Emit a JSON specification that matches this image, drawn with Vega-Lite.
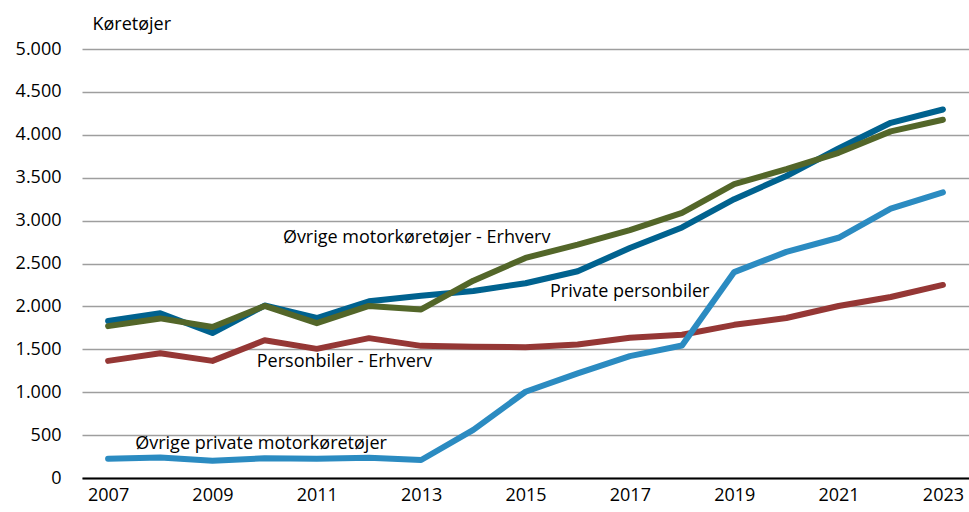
{
  "$schema": "https://vega.github.io/schema/vega-lite/v6.json",
  "width": 887,
  "height": 429,
  "autosize": {"type": "none"},
  "padding": {"left": 82, "top": 49, "right": 0, "bottom": 34},
  "config": {"view": {"stroke": null}, "font": "Open Sans", "background": "white"},
  "datasets": {
    "series": [
      {"year": 2007, "series": "Personbiler - Erhverv", "value": 1365},
      {"year": 2008, "series": "Personbiler - Erhverv", "value": 1455},
      {"year": 2009, "series": "Personbiler - Erhverv", "value": 1365},
      {"year": 2010, "series": "Personbiler - Erhverv", "value": 1605},
      {"year": 2011, "series": "Personbiler - Erhverv", "value": 1505},
      {"year": 2012, "series": "Personbiler - Erhverv", "value": 1630},
      {"year": 2013, "series": "Personbiler - Erhverv", "value": 1540},
      {"year": 2014, "series": "Personbiler - Erhverv", "value": 1530},
      {"year": 2015, "series": "Personbiler - Erhverv", "value": 1525},
      {"year": 2016, "series": "Personbiler - Erhverv", "value": 1555},
      {"year": 2017, "series": "Personbiler - Erhverv", "value": 1635},
      {"year": 2018, "series": "Personbiler - Erhverv", "value": 1670},
      {"year": 2019, "series": "Personbiler - Erhverv", "value": 1785},
      {"year": 2020, "series": "Personbiler - Erhverv", "value": 1865},
      {"year": 2021, "series": "Personbiler - Erhverv", "value": 2005},
      {"year": 2022, "series": "Personbiler - Erhverv", "value": 2110},
      {"year": 2023, "series": "Personbiler - Erhverv", "value": 2250},
      {"year": 2007, "series": "Private personbiler", "value": 1830},
      {"year": 2008, "series": "Private personbiler", "value": 1920},
      {"year": 2009, "series": "Private personbiler", "value": 1690},
      {"year": 2010, "series": "Private personbiler", "value": 2010},
      {"year": 2011, "series": "Private personbiler", "value": 1865},
      {"year": 2012, "series": "Private personbiler", "value": 2060},
      {"year": 2013, "series": "Private personbiler", "value": 2125},
      {"year": 2014, "series": "Private personbiler", "value": 2180},
      {"year": 2015, "series": "Private personbiler", "value": 2270},
      {"year": 2016, "series": "Private personbiler", "value": 2410},
      {"year": 2017, "series": "Private personbiler", "value": 2680},
      {"year": 2018, "series": "Private personbiler", "value": 2920},
      {"year": 2019, "series": "Private personbiler", "value": 3250},
      {"year": 2020, "series": "Private personbiler", "value": 3520},
      {"year": 2021, "series": "Private personbiler", "value": 3840},
      {"year": 2022, "series": "Private personbiler", "value": 4140},
      {"year": 2023, "series": "Private personbiler", "value": 4295},
      {"year": 2007, "series": "Øvrige motorkøretøjer - Erhverv", "value": 1770},
      {"year": 2008, "series": "Øvrige motorkøretøjer - Erhverv", "value": 1860},
      {"year": 2009, "series": "Øvrige motorkøretøjer - Erhverv", "value": 1760},
      {"year": 2010, "series": "Øvrige motorkøretøjer - Erhverv", "value": 2005},
      {"year": 2011, "series": "Øvrige motorkøretøjer - Erhverv", "value": 1805},
      {"year": 2012, "series": "Øvrige motorkøretøjer - Erhverv", "value": 2005},
      {"year": 2013, "series": "Øvrige motorkøretøjer - Erhverv", "value": 1965},
      {"year": 2014, "series": "Øvrige motorkøretøjer - Erhverv", "value": 2300},
      {"year": 2015, "series": "Øvrige motorkøretøjer - Erhverv", "value": 2565},
      {"year": 2016, "series": "Øvrige motorkøretøjer - Erhverv", "value": 2720},
      {"year": 2017, "series": "Øvrige motorkøretøjer - Erhverv", "value": 2890},
      {"year": 2018, "series": "Øvrige motorkøretøjer - Erhverv", "value": 3090},
      {"year": 2019, "series": "Øvrige motorkøretøjer - Erhverv", "value": 3425},
      {"year": 2020, "series": "Øvrige motorkøretøjer - Erhverv", "value": 3600},
      {"year": 2021, "series": "Øvrige motorkøretøjer - Erhverv", "value": 3790},
      {"year": 2022, "series": "Øvrige motorkøretøjer - Erhverv", "value": 4040},
      {"year": 2023, "series": "Øvrige motorkøretøjer - Erhverv", "value": 4175},
      {"year": 2007, "series": "Øvrige private motorkøretøjer", "value": 225},
      {"year": 2008, "series": "Øvrige private motorkøretøjer", "value": 240},
      {"year": 2009, "series": "Øvrige private motorkøretøjer", "value": 200},
      {"year": 2010, "series": "Øvrige private motorkøretøjer", "value": 230},
      {"year": 2011, "series": "Øvrige private motorkøretøjer", "value": 225},
      {"year": 2012, "series": "Øvrige private motorkøretøjer", "value": 235},
      {"year": 2013, "series": "Øvrige private motorkøretøjer", "value": 210},
      {"year": 2014, "series": "Øvrige private motorkøretøjer", "value": 560},
      {"year": 2015, "series": "Øvrige private motorkøretøjer", "value": 1005},
      {"year": 2016, "series": "Øvrige private motorkøretøjer", "value": 1220},
      {"year": 2017, "series": "Øvrige private motorkøretøjer", "value": 1420},
      {"year": 2018, "series": "Øvrige private motorkøretøjer", "value": 1545},
      {"year": 2019, "series": "Øvrige private motorkøretøjer", "value": 2400},
      {"year": 2020, "series": "Øvrige private motorkøretøjer", "value": 2635},
      {"year": 2021, "series": "Øvrige private motorkøretøjer", "value": 2800},
      {"year": 2022, "series": "Øvrige private motorkøretøjer", "value": 3140},
      {"year": 2023, "series": "Øvrige private motorkøretøjer", "value": 3330}
    ],
    "labels": [
      {"label": "Øvrige motorkøretøjer - Erhverv", "x": 2010.35, "y": 2797},
      {"label": "Private personbiler", "x": 2015.47, "y": 2168},
      {"label": "Personbiler - Erhverv", "x": 2009.85, "y": 1352},
      {"label": "Øvrige private motorkøretøjer", "x": 2007.52, "y": 396}
    ]
  },
  "layer": [
    {
      "data": {"name": "series"},
      "mark": {"type": "line", "strokeWidth": 6, "strokeCap": "round", "strokeJoin": "round"},
      "encoding": {
        "x": {
          "field": "year", "type": "quantitative",
          "scale": {"domain": [2006.5, 2023.5], "nice": false, "zero": false},
          "axis": {
            "values": [2007, 2009, 2011, 2013, 2015, 2017, 2019, 2021, 2023],
            "format": "d", "grid": false, "ticks": false,
            "domainColor": "black", "domainWidth": 2,
            "labelFontSize": 18, "labelColor": "black", "labelPadding": 8,
            "labelFont": "Open Sans", "title": null, "zindex": 1
          }
        },
        "y": {
          "field": "value", "type": "quantitative",
          "scale": {"domain": [0, 5000], "nice": false},
          "axis": {
            "values": [0, 500, 1000, 1500, 2000, 2500, 3000, 3500, 4000, 4500, 5000],
            "labelExpr": "replace(format(datum.value, ','), ',', '.')",
            "grid": true, "gridColor": "#9e9e9e", "gridWidth": 1.5,
            "domain": false, "ticks": false,
            "labelFontSize": 18, "labelColor": "black", "labelPadding": 21, "labelFont": "Open Sans",
            "title": "Køretøjer", "titleAngle": 0, "titleAlign": "left", "titleBaseline": "middle",
            "titleX": 10, "titleY": -25, "titleFontWeight": "normal", "titleFontSize": 18,
            "titleFont": "Open Sans", "titleColor": "black"
          }
        },
        "color": {
          "field": "series", "type": "nominal",
          "scale": {
            "domain": ["Personbiler - Erhverv", "Private personbiler", "Øvrige motorkøretøjer - Erhverv", "Øvrige private motorkøretøjer"],
            "range": ["#953735", "#00628f", "#536629", "#2b8bc1"]
          },
          "legend": null
        }
      }
    },
    {
      "data": {"name": "labels"},
      "mark": {"type": "text", "align": "left", "baseline": "middle", "fontSize": 18, "font": "Open Sans", "color": "black"},
      "encoding": {
        "x": {"field": "x", "type": "quantitative"},
        "y": {"field": "y", "type": "quantitative"},
        "text": {"field": "label"}
      }
    }
  ]
}
